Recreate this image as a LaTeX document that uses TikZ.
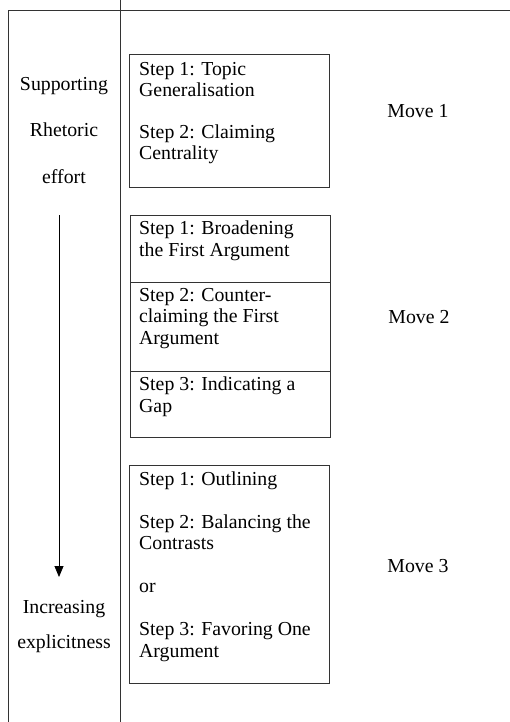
\documentclass[tikz,border=0pt]{standalone}
\usepackage{fontspec}
\setmainfont{Liberation Serif}
\usepackage{tikz}
\usetikzlibrary{arrows.meta}
\tikzset{
	stepbox/.style={draw=black!80, line width=0.8pt, inner sep=0pt, anchor=north west, minimum width=200pt},
	steptext/.style={anchor=base west, inner sep=0pt, align=left, font=\fontsize{19.8}{21.5}\selectfont},
	label/.style={anchor=base, inner sep=0pt, font=\fontsize{19.8}{21.5}\selectfont},
	rule/.style={draw=black!80, line width=0.8pt}
}

\begin{document}
\begin{tikzpicture}[x=1pt, y=-1pt]
			%%%%% START %%%%%
			\useasboundingbox (0, 0) rectangle (510, 722);
			
			\draw[rule] (510, 10) -- (8, 10) -- (8, 722);
			\draw[rule] (120, 0) -- (120, 722);
			
			% left column
			\node[label] (supporting) at (64, 91) {Supporting};
			\node[label] (rhetoric) at (64, 137) {Rhetoric};
			\node[label] (effort) at (64, 183) {effort};
			\node[label] (increasing) at (64, 613) {Increasing};
			\node[label] (explicitness) at (64, 648) {explicitness};
			
			\coordinate (arrtop) at (59, 215);
			\coordinate (arrbot) at (59, 577);
			\draw[line width=0.8pt, -{Triangle[length=11pt, width=9pt]}] (arrtop) -- (arrbot);
			
			% move 1 (base = last line)
			\node[stepbox, minimum height=133pt] (box1) at (129, 54) {};
			\node[steptext] (text1) at (139, 160) {Step 1: Topic\\Generalisation\\[20pt]Step 2: Claiming\\Centrality};
			\node[label] (move1) at (418, 118) {Move 1};
			
			% move 2
			\node[stepbox, minimum height=67pt] (box2a) at (130, 215) {};
			\node[stepbox, minimum height=89pt] (box2b) at (130, 282) {};
			\node[stepbox, minimum height=66pt] (box2c) at (130, 371) {};
			\node[steptext] (text2a) at (139, 256) {Step 1: Broadening\\the First Argument};
			\node[steptext] (text2b) at (139, 344) {Step 2: Counter-\\claiming the First\\Argument};
			\node[steptext] (text2c) at (139, 412) {Step 3: Indicating a\\Gap};
			\node[label] (move2) at (419, 323) {Move 2};
			
			% move 3
			\node[stepbox, minimum height=218pt] (box3) at (129, 465) {};
			\node[steptext] (text3) at (139, 657) {Step 1: Outlining\\[21.5pt]Step 2: Balancing the\\Contrasts\\[21.5pt]or\\[21.5pt]Step 3: Favoring One\\Argument};
			\node[label] (move3) at (418, 572) {Move 3};
			
			%%%%% END %%%%%
\end{tikzpicture}
\end{document}
